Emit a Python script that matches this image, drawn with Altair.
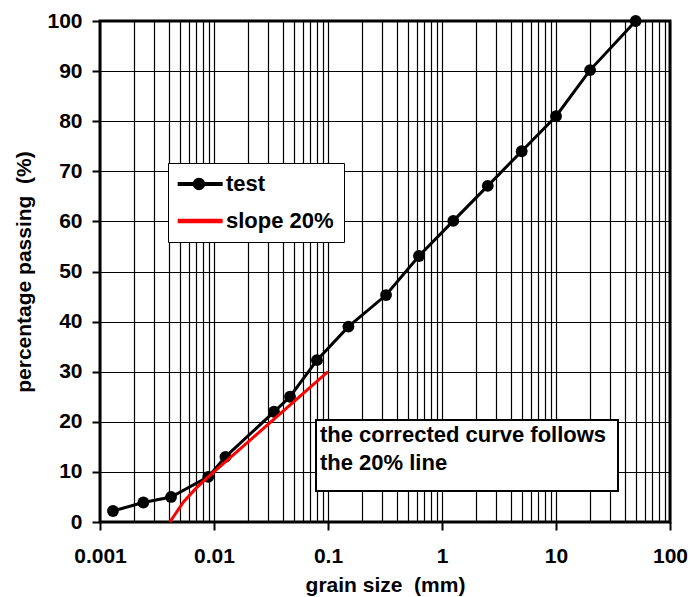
import altair as alt
import pandas as pd

# ---- data ----
test_size = [0.0013, 0.0024, 0.0042, 0.0089, 0.0126, 0.0336, 0.0464, 0.080, 0.151,
             0.323, 0.628, 1.256, 2.52, 5.0, 10.0, 19.9, 50.0]
test_pass = [2.2, 3.9, 5.0, 9.0, 13.0, 22.0, 25.0, 32.3, 39.0,
             45.3, 53.1, 60.1, 67.1, 74.0, 81.0, 90.2, 100.0]
slope_size = [0.0041, 0.0054, 0.0070, 0.0089, 0.1]
slope_pass = [0.0, 4.0, 6.8, 9.0, 30.0]
series_names = ["test", "slope 20%"]
series_colors = ["black", "red"]
x_grid_values = [k * 10.0 ** e for e in range(-3, 2) for k in range(1, 10)] + [100.0]
y_tick_values = list(range(0, 101, 10))
note_lines = ["the corrected curve follows", "the 20% line"]
x_title = "grain size\u00a0 (mm)"
y_title = "percentage passing\u00a0 (%)"

test_df = pd.DataFrame({"size": test_size, "passing": test_pass, "series": "test"})
slope_df = pd.DataFrame({"size": slope_size, "passing": slope_pass, "series": "slope 20%"})
all_df = pd.concat([test_df, slope_df], ignore_index=True)

FONT = "Liberation Sans"
decade_test = "abs(log(datum.value)/LN10 - round(log(datum.value)/LN10)) < 1e-6"

x_enc = alt.X(
    "size:Q",
    scale=alt.Scale(type="log", domain=[0.001, 100], nice=False),
    axis=alt.Axis(
        values=x_grid_values, format="~g", title=x_title,
        labelExpr=f"{decade_test} ? datum.label : ''",
        tickOpacity={"condition": {"test": decade_test, "value": 1}, "value": 0},
        labelOverlap=False, labelFlush=False,
    ),
)
y_enc = alt.Y(
    "passing:Q",
    scale=alt.Scale(domain=[0, 100], nice=False),
    axis=alt.Axis(values=y_tick_values, title=y_title),
)

test_line = alt.Chart(test_df).mark_line(color="black", strokeWidth=3).encode(x=x_enc, y=y_enc)
test_pts = alt.Chart(test_df).mark_circle(color="black", size=140, opacity=1).encode(x=x_enc, y=y_enc)
slope_line = alt.Chart(slope_df).mark_line(color="red", strokeWidth=3).encode(x=x_enc, y=y_enc)

path_test = ("M-1.03,-0.18H3.06V0.18H-1.03Z "
             "M1.47,0A0.56,0.56,0,1,1,0.35,0A0.56,0.56,0,1,1,1.47,0Z")
path_slope = "M-1.03,-0.21H3.06V0.21H-1.03Z"

legend_props = dict(title=None, orient="none", legendX=68, legendY=142,
                    symbolSize=484, symbolStrokeWidth=0, symbolOpacity=1,
                    labelFontSize=22, labelFont=FONT, labelFontWeight="bold",
                    labelColor="black", labelOffset=26, rowPadding=15,
                    padding=10, strokeColor="black", fillColor="white")

legend_layer = alt.Chart(all_df).transform_filter("false").mark_point(filled=True, opacity=1).encode(
    x=x_enc, y=y_enc,
    color=alt.Color("series:N", scale=alt.Scale(domain=series_names, range=series_colors),
                    legend=alt.Legend(**legend_props)),
    shape=alt.Shape("series:N", scale=alt.Scale(domain=series_names, range=[path_test, path_slope]),
                    legend=alt.Legend(**legend_props)),
)

note_box = alt.Chart(alt.Data(values=[{}])).mark_rect(fill="white", stroke="black", strokeWidth=2).encode(
    x=alt.value(216), x2=alt.value(518), y=alt.value(399), y2=alt.value(470)
)
note_text = alt.Chart(alt.Data(values=[{}])).mark_text(
    text=note_lines, align="left", baseline="alphabetic", lineHeight=28,
    fontSize=22, fontWeight="bold", font=FONT, color="black"
).encode(x=alt.value(220), y=alt.value(421))

chart = alt.layer(test_line, test_pts, slope_line, legend_layer, note_box, note_text).properties(
    width=570, height=501,
    padding={"left": 100, "top": 21, "right": 20, "bottom": 75},
    autosize="none",
    background="white",
).configure_view(
    stroke="black", strokeWidth=3
).configure_axis(
    grid=True, gridColor="black", gridWidth=1.2, gridOpacity=1,
    domain=False, tickColor="black", tickSize=8, tickWidth=2,
    labelFont=FONT, labelFontSize=21, labelFontWeight="bold", labelColor="black",
    titleFont=FONT, titleFontSize=21, titleFontWeight="bold", titleColor="black",
).configure_axisX(
    labelPadding=15, titlePadding=8
).configure_axisY(
    labelPadding=10, titlePadding=12
)

chart.save("out.html", embed_options={"renderer": "svg", "actions": False})
